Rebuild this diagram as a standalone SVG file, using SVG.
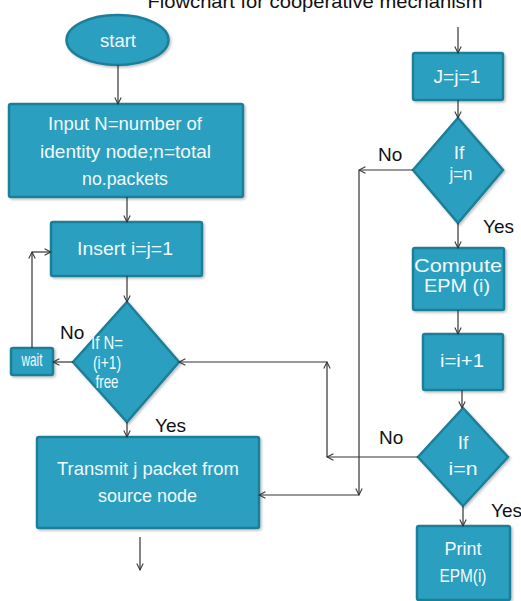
<svg xmlns="http://www.w3.org/2000/svg" width="521" height="601" viewBox="0 0 521 601">
<defs>
<marker id="ah" viewBox="0 0 10 10" refX="9" refY="5" markerWidth="8" markerHeight="8" orient="auto" markerUnits="userSpaceOnUse">
<path d="M1,1 L9,5 L1,9" fill="none" stroke="#333" stroke-width="1.3"/>
</marker>
<filter id="sh" x="-10%" y="-10%" width="125%" height="125%">
<feDropShadow dx="1.5" dy="1.5" stdDeviation="1.2" flood-color="#000" flood-opacity="0.25"/>
</filter>
</defs>
<style>
.n{fill:#2b9fbf;stroke:#1f7f99;stroke-width:2.5;filter:url(#sh)}
.t{fill:#f2fafc;font-family:"Liberation Sans Narrow","Liberation Sans",sans-serif;font-size:19px;text-anchor:middle}
.l{fill:#111;font-family:"Liberation Sans Narrow","Liberation Sans",sans-serif;font-size:19px}
.c{fill:none;stroke:#333;stroke-width:1.2;marker-end:url(#ah)}
.p{fill:none;stroke:#333;stroke-width:1.2}
</style>
<rect width="521" height="601" fill="#fff"/>
<text x="315" y="8" class="l" font-size="22" text-anchor="middle" textLength="335" lengthAdjust="spacingAndGlyphs" fill="#222">Flowchart for cooperative mechanism</text>

<g id="start">
<ellipse class="n" cx="117.5" cy="40" rx="51" ry="25"/>
<text class="t" x="118" y="47" textLength="36" lengthAdjust="spacingAndGlyphs">start</text>
</g>
<g id="input">
<rect class="n" x="9" y="104" width="234" height="93" rx="2"/>
<text class="t" x="125" y="130" textLength="154" lengthAdjust="spacingAndGlyphs">Input N=number of</text>
<text class="t" x="125.5" y="158" textLength="171" lengthAdjust="spacingAndGlyphs">identity node;n=total</text>
<text class="t" x="125" y="185" textLength="86" lengthAdjust="spacingAndGlyphs">no.packets</text>
</g>
<g id="insert">
<rect class="n" x="51" y="222" width="151" height="54" rx="2"/>
<text class="t" x="125" y="255" textLength="96" lengthAdjust="spacingAndGlyphs">Insert i=j=1</text>
</g>
<g id="ifN">
<polygon class="n" points="127,302 179,362 127,422 73,362"/>
<text class="t" x="107" y="349" text-anchor="start" font-size="17" textLength="32" lengthAdjust="spacingAndGlyphs">If N=</text>
<text class="t" x="107" y="369" text-anchor="start" font-size="17" textLength="28" lengthAdjust="spacingAndGlyphs">(i+1)</text>
<text class="t" x="107" y="388" text-anchor="start" font-size="17" textLength="23" lengthAdjust="spacingAndGlyphs">free</text>
</g>
<g id="wait">
<rect class="n" x="11" y="348" width="42" height="27" rx="2"/>
<text class="t" x="32" y="365.5" font-size="10" textLength="21" lengthAdjust="spacingAndGlyphs">wait</text>
</g>
<g id="transmit">
<rect class="n" x="37" y="437" width="222" height="91" rx="2"/>
<text class="t" x="148" y="475" textLength="182" lengthAdjust="spacingAndGlyphs">Transmit j packet from</text>
<text class="t" x="147.5" y="502" textLength="99" lengthAdjust="spacingAndGlyphs">source node</text>
</g>
<g id="jinit">
<rect class="n" x="413" y="53" width="90" height="47" rx="2"/>
<text class="t" x="457" y="83" textLength="47" lengthAdjust="spacingAndGlyphs">J=j=1</text>
</g>
<g id="ifj">
<polygon class="n" points="458,118 503,170 458,223 413,170"/>
<text class="t" x="459" y="159" font-size="18">If</text>
<text class="t" x="461" y="180" font-size="18" textLength="23" lengthAdjust="spacingAndGlyphs">j=n</text>
</g>
<g id="compute">
<rect class="n" x="413" y="248" width="91" height="62" rx="2"/>
<text class="t" x="458" y="272" textLength="88" lengthAdjust="spacingAndGlyphs">Compute</text>
<text class="t" x="457" y="292" textLength="66" lengthAdjust="spacingAndGlyphs">EPM (i)</text>
</g>
<g id="inc">
<rect class="n" x="423" y="334" width="80" height="56" rx="2"/>
<text class="t" x="462" y="367" textLength="44" lengthAdjust="spacingAndGlyphs">i=i+1</text>
</g>
<g id="ifi">
<polygon class="n" points="463,408 508,457 463,506 418,457"/>
<text class="t" x="463" y="449" font-size="18">If</text>
<text class="t" x="463" y="475" font-size="18" textLength="29" lengthAdjust="spacingAndGlyphs">i=n</text>
</g>
<g id="print">
<rect class="n" x="417" y="526" width="93" height="74" rx="2"/>
<text class="t" x="463" y="555" textLength="37" lengthAdjust="spacingAndGlyphs">Print</text>
<text class="t" x="463" y="582" textLength="47" lengthAdjust="spacingAndGlyphs">EPM(i)</text>
</g>

<g id="connectors">
<line class="c" x1="118" y1="65" x2="118" y2="104"/>
<line class="c" x1="127" y1="197" x2="127" y2="222"/>
<line class="c" x1="127" y1="276" x2="127" y2="302"/>
<line class="c" x1="73" y1="362" x2="53" y2="362"/>
<line class="c" x1="32" y1="348" x2="32" y2="252"/>
<line class="c" x1="32" y1="252" x2="51" y2="252"/>
<line class="c" x1="127" y1="422" x2="127" y2="437"/>
<line class="c" x1="140" y1="537" x2="140" y2="570"/>
<line class="c" x1="458" y1="27" x2="458" y2="53"/>
<line class="c" x1="458" y1="100" x2="458" y2="118"/>
<line class="c" x1="413" y1="170" x2="359" y2="170"/>
<line class="c" x1="359" y1="170" x2="359" y2="495"/>
<line class="c" x1="359" y1="495" x2="259" y2="495"/>
<line class="c" x1="458" y1="223" x2="458" y2="248"/>
<line class="c" x1="458" y1="310" x2="458" y2="334"/>
<line class="c" x1="462" y1="390" x2="462" y2="408"/>
<line class="c" x1="418" y1="457" x2="327" y2="457"/>
<line class="c" x1="327" y1="457" x2="327" y2="362"/>
<line class="c" x1="327" y1="362" x2="179" y2="362"/>
<line class="c" x1="463" y1="506" x2="463" y2="526"/>
</g>

<g id="labels">
<text class="l" x="60" y="339" font-size="20">No</text>
<text class="l" x="155" y="432" font-size="20">Yes</text>
<text class="l" x="378" y="161" font-size="20">No</text>
<text class="l" x="483" y="233" font-size="20">Yes</text>
<text class="l" x="379" y="444" font-size="20">No</text>
<text class="l" x="491" y="517" font-size="20">Yes</text>
</g>
</svg>
